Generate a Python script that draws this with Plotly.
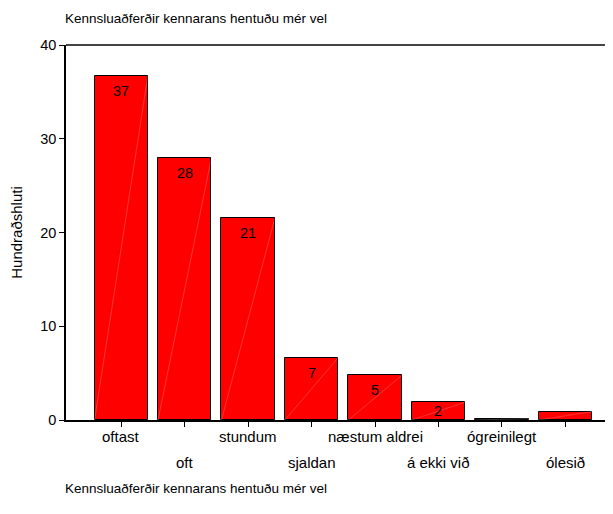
import plotly.graph_objects as go

categories = ["oftast", "oft", "stundum", "sjaldan", "næstum aldrei", "á ekki við", "ógreinilegt", "ólesið"]
values = [36.7, 27.9, 21.5, 6.65, 4.75, 1.9, 0.15, 0.9]
bar_labels = ["37", "28", "21", "7", "5", "2", "", ""]
y_ticks = [0, 10, 20, 30, 40]
title_text = "Kennsluaðferðir kennarans hentuðu mér vel"
y_title = "Hundraðshluti"

FONT = "Liberation Sans, Arial, sans-serif"
FS = 13.5
BAR_W = 0.84
x_idx = list(range(len(categories)))

fig = go.Figure()
fig.add_trace(go.Bar(
    x=x_idx, y=values, width=BAR_W,
    marker=dict(color="#FF0000", line=dict(color="black", width=1)),
    hoverinfo="skip", showlegend=False,
))

# faint white diagonal rendering lines inside bars
lx, ly = [], []
for i, v in zip(x_idx, values):
    lx += [i - BAR_W / 2, i + BAR_W / 2, None]
    ly += [0, v, None]
fig.add_trace(go.Scatter(
    x=lx, y=ly, mode="lines",
    line=dict(color="rgba(255,255,255,0.35)", width=0.6),
    hoverinfo="skip", showlegend=False,
))

annotations = []
px_per_unit = 375 / 40
for i, (v, lab) in enumerate(zip(values, bar_labels)):
    if lab:
        shift = -min(15, v * px_per_unit - 9)
        annotations.append(dict(
            x=i, y=v, xref="x", yref="y", text=lab, showarrow=False,
            yanchor="middle", yshift=shift,
            font=dict(family=FONT, size=14.5, color="black"),
        ))
for i, c in enumerate(categories):
    annotations.append(dict(
        x=i, y=0, xref="x", yref="paper", text=c, showarrow=False,
        yanchor="middle", yshift=-16 if i % 2 == 0 else -42,
        font=dict(family=FONT, size=15, color="black"),
    ))
annotations.append(dict(
    x=0, y=0, xref="paper", yref="paper", text=title_text, showarrow=False,
    xanchor="left", yanchor="middle", yshift=-68, xshift=-3,
    font=dict(family=FONT, size=FS, color="black"),
))
annotations.append(dict(
    x=0, y=1, xref="paper", yref="paper", text=title_text, showarrow=False,
    xanchor="left", yanchor="middle", yshift=27, xshift=-3,
    font=dict(family=FONT, size=FS, color="black"),
))

fig.update_layout(
    width=605, height=506,
    margin=dict(l=58, r=0, t=37, b=94),
    paper_bgcolor="white", plot_bgcolor="white",
    font=dict(family=FONT, size=FS, color="black"),
    annotations=annotations,
    shapes=[dict(type="line", xref="paper", yref="paper", x0=0, x1=1, y0=1, y1=1,
                 line=dict(color="#444444", width=2))],
    xaxis=dict(
        range=[-0.87, 7.75], tickvals=x_idx, ticktext=[""] * len(categories),
        ticks="outside", ticklen=5, tickcolor="black", showline=True,
        linecolor="black", linewidth=1.5, showgrid=False, zeroline=False,
        fixedrange=True,
    ),
    yaxis=dict(
        range=[0, 40], tickvals=y_ticks, ticks="outside", ticklen=5,
        tickcolor="black", showline=True, linecolor="black", linewidth=1.5,
        showgrid=False, zeroline=False,
        title=dict(text=y_title, standoff=14, font=dict(family=FONT, size=15)),
        tickfont=dict(family=FONT, size=14.5),
    ),
    bargap=0,
)

fig.write_html("out.html")
